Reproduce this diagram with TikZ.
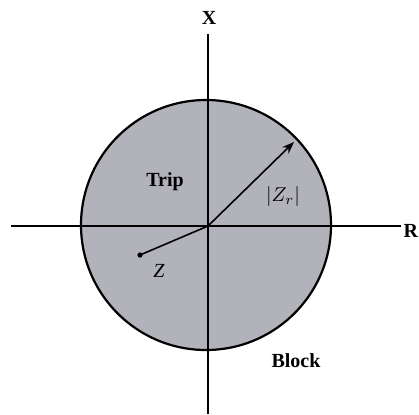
\documentclass[tikz,border=0pt]{standalone}
\usepackage{fontspec}
\setmainfont{Liberation Serif}
\usetikzlibrary{arrows.meta}
\definecolor{zonegray}{RGB}{178,178,187}
\tikzset{axis/.style={line width=1.1pt}}
\begin{document}
\begin{tikzpicture}[x=0.5pt,y=-0.5pt]
\useasboundingbox (0,0) rectangle (419,414);
\fill[zonegray] (206,225) circle (125);
\draw[line width=1.1pt] (206,225) circle (125);

\coordinate (O) at (208,226);
\coordinate (Xtop) at (208,34);
\coordinate (Xbot) at (208,414);
\coordinate (Rleft) at (11,226);
\coordinate (Rright) at (401,226);
\draw[axis] (Xbot) -- (Xtop);
\draw[axis] (Rleft) -- (Rright);
\node[font=\bfseries, anchor=base] (xlab) at (209,24) {X};
\node[font=\bfseries, anchor=base east, inner sep=0pt] (rlab) at (418.5,237) {R};

\coordinate (rim) at (294,142);
\coordinate (Z) at (140,255);
\fill (Z) circle (2.6);
\draw[line width=0.8pt, -{Stealth[length=6pt,width=4.5pt]}] (O) -- (rim);
\draw[line width=0.8pt] (Z) -- (O);

\node[font=\bfseries, anchor=base] (trip) at (165,186) {Trip};
\node[anchor=base] (zr) at (283,201) {$|Z_r|$};
\node[anchor=base] (zlab) at (159,277) {\textit{Z}};
\node[font=\bfseries, anchor=base] (block) at (296,367) {Block};
\end{tikzpicture}
\end{document}
